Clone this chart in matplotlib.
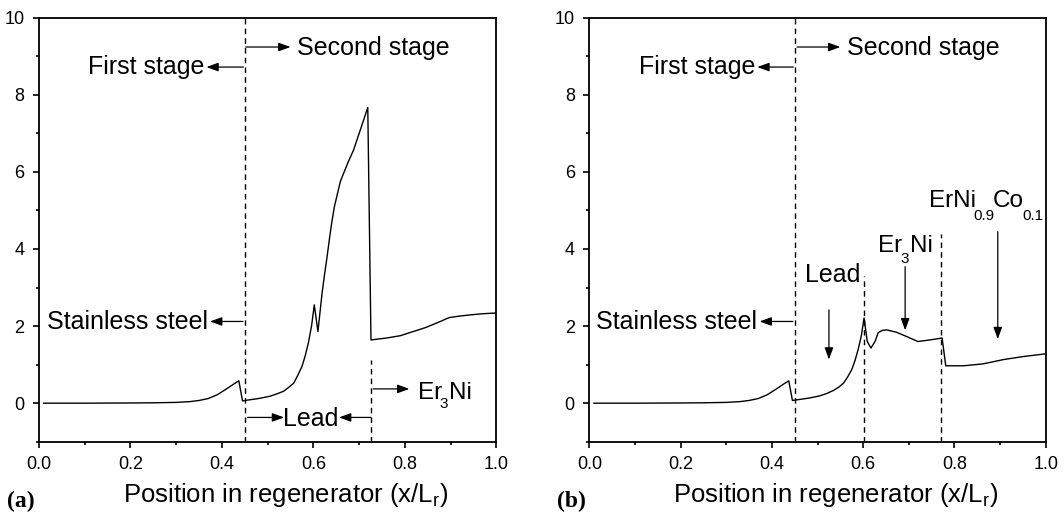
import matplotlib
matplotlib.use('Agg')
import matplotlib.pyplot as plt
from matplotlib.ticker import MultipleLocator

plt.rcParams['font.family'] = ['Liberation Sans', 'DejaVu Sans']
plt.rcParams['mathtext.fontset'] = 'custom'
plt.rcParams['mathtext.rm'] = 'Liberation Sans'
plt.rcParams['mathtext.it'] = 'Liberation Sans:italic'

# panel (a): curve
x_a = [0.01, 0.1, 0.2, 0.25, 0.3, 0.33, 0.35, 0.37, 0.39, 0.41, 0.425, 0.437,
       0.445, 0.462, 0.48, 0.505, 0.52, 0.535, 0.545, 0.557, 0.565, 0.575,
       0.582, 0.589, 0.596, 0.602, 0.610, 0.619, 0.624, 0.630, 0.635, 0.640,
       0.646, 0.653, 0.659, 0.666, 0.676, 0.688, 0.703, 0.719, 0.726, 0.76,
       0.79, 0.819, 0.845, 0.870, 0.897, 0.92, 0.943, 0.97, 1.0]
y_a = [0.0, 0.0, 0.005, 0.01, 0.02, 0.04, 0.07, 0.12, 0.22, 0.37, 0.49, 0.58,
       0.06, 0.09, 0.12, 0.18, 0.24, 0.31, 0.40, 0.52, 0.70, 0.95,
       1.22, 1.56, 2.0, 2.55, 1.86, 2.85, 3.3, 3.80, 4.25, 4.67,
       5.1, 5.45, 5.75, 5.96, 6.25, 6.57, 7.1, 7.67, 1.64, 1.69,
       1.75, 1.86, 1.96, 2.08, 2.22, 2.26, 2.29, 2.32, 2.34]

# panel (b)
x_b = [0.01, 0.1, 0.2, 0.25, 0.3, 0.33, 0.35, 0.37, 0.39, 0.41, 0.425, 0.437,
       0.445, 0.469, 0.485, 0.505, 0.52, 0.535, 0.547, 0.557, 0.566, 0.575,
       0.582, 0.589, 0.596, 0.602, 0.609, 0.617, 0.626, 0.633, 0.642, 0.652,
       0.673, 0.695, 0.720, 0.746, 0.773, 0.781, 0.82, 0.863, 0.907, 0.951,
       1.0]
y_b = [0.0, 0.0, 0.005, 0.01, 0.02, 0.04, 0.07, 0.12, 0.22, 0.37, 0.49, 0.58,
       0.07, 0.11, 0.14, 0.19, 0.25, 0.33, 0.42, 0.52, 0.68, 0.87,
       1.1, 1.39, 1.75, 2.21, 1.60, 1.43, 1.60, 1.83, 1.89, 1.90,
       1.84, 1.73, 1.60, 1.64, 1.69, 0.97, 0.97, 1.02, 1.13, 1.21,
       1.28]

# dashed boundaries: position, top of the line
bounds_a = [(0.45, 10.0), (0.727, 1.13)]
bounds_b = [(0.45, 10.0), (0.602, 3.3), (0.771, 4.4)]

# plain labels: text, x, y (baseline), alignment
labels_a = [('Second stage', 0.565, 9.02, 'left'),
            ('First stage', 0.362, 8.53, 'right'),
            ('Stainless steel', 0.37, 1.92, 'right'),
            ('Lead', 0.594, -0.60, 'center')]
labels_b = [('Second stage', 0.565, 9.02, 'left'),
            ('First stage', 0.363, 8.53, 'right'),
            ('Stainless steel', 0.368, 1.92, 'right'),
            ('Lead', 0.533, 3.15, 'center')]

# formula pieces: text, x (left), y (baseline), subscript?
formula_a = [('Er', 0.828, 0.11, False), ('3', 0.876, -0.12, True),
             ('Ni', 0.896, 0.11, False)]
formula_b = [('Er', 0.633, 3.91, False), ('3', 0.682, 3.63, True),
             ('Ni', 0.703, 3.91, False),
             ('ErNi', 0.744, 5.09, False), ('0.9', 0.842, 4.75, True),
             ('Co', 0.885, 5.09, False), ('0.1', 0.949, 4.75, True)]

# arrows: (tail x, tail y), (tip x, tip y)
arrows_a = [((0.452, 9.24), (0.55, 9.24)),
            ((0.447, 8.72), (0.366, 8.72)),
            ((0.446, 2.12), (0.374, 2.12)),
            ((0.456, -0.37), (0.536, -0.37)),
            ((0.726, -0.37), (0.656, -0.37)),
            ((0.731, 0.37), (0.81, 0.37))]
arrows_b = [((0.455, 9.24), (0.55, 9.24)),
            ((0.447, 8.72), (0.368, 8.72)),
            ((0.446, 2.12), (0.373, 2.12)),
            ((0.525, 2.42), (0.525, 1.13)),
            ((0.692, 3.54), (0.692, 1.89)),
            ((0.895, 4.45), (0.895, 1.66))]

fig = plt.figure(figsize=(10.64, 5.15), dpi=100)
ax_a = fig.add_axes([0.0367, 0.1423, 0.4297, 0.8233])
ax_b = fig.add_axes([0.5539, 0.1423, 0.4289, 0.8233])

arrow_style = dict(arrowstyle='-|>,head_length=0.55,head_width=0.2', color='k',
                   lw=0.9, shrinkA=0, shrinkB=0, mutation_scale=13)

for ax, xs, ys, bounds, labels, formula, arrows, tag in [
        (ax_a, x_a, y_a, bounds_a, labels_a, formula_a, arrows_a, '(a)'),
        (ax_b, x_b, y_b, bounds_b, labels_b, formula_b, arrows_b, '(b)')]:
    ax.plot(xs, ys, color='k', lw=1.0)
    for xb, top in bounds:
        ax.plot([xb, xb], [-1, top], color='k', lw=1.0, ls=(0, (4, 3)))
    for txt, tx, ty, ha in labels:
        ax.text(tx, ty, txt, ha=ha, va='baseline', fontsize=18)
    for txt, tx, ty, sub in formula:
        ax.text(tx, ty, txt, ha='left', va='baseline', fontsize=11 if sub else 17.5)
    for tail, tip in arrows:
        ax.annotate('', xy=tip, xytext=tail, arrowprops=arrow_style)

    ax.set_xlim(0, 1.0)
    ax.set_ylim(-1, 10)
    ax.xaxis.set_minor_locator(MultipleLocator(0.1))
    ax.yaxis.set_major_locator(MultipleLocator(2))
    ax.yaxis.set_minor_locator(MultipleLocator(1))
    ax.set_xticks([0.0, 0.2, 0.4, 0.6, 0.8, 1.0])
    ax.set_xticklabels(['0.0', '0.2', '0.4', '0.6', '0.8', '1.0'])
    ax.tick_params(which='major', direction='out', length=4.5, width=1.2,
                   labelsize=13, pad=6)
    ax.tick_params(which='minor', direction='out', length=2.5, width=1.2)
    for s in ax.spines.values():
        s.set_linewidth(1.3)

    ax.set_xlabel(r'Position in regenerator (x/L$_{\rm r}$)', fontsize=18.5)
    ax.xaxis.label.set_va('baseline')
    ax.xaxis.set_label_coords(0.54, -0.142)

    pos = ax.get_position()
    fig.text(pos.x0 - 0.030, 0.016, tag, fontsize=17, fontweight='bold',
             family='Liberation Serif', va='baseline', ha='left')

fig.savefig('out.png', dpi=100)
